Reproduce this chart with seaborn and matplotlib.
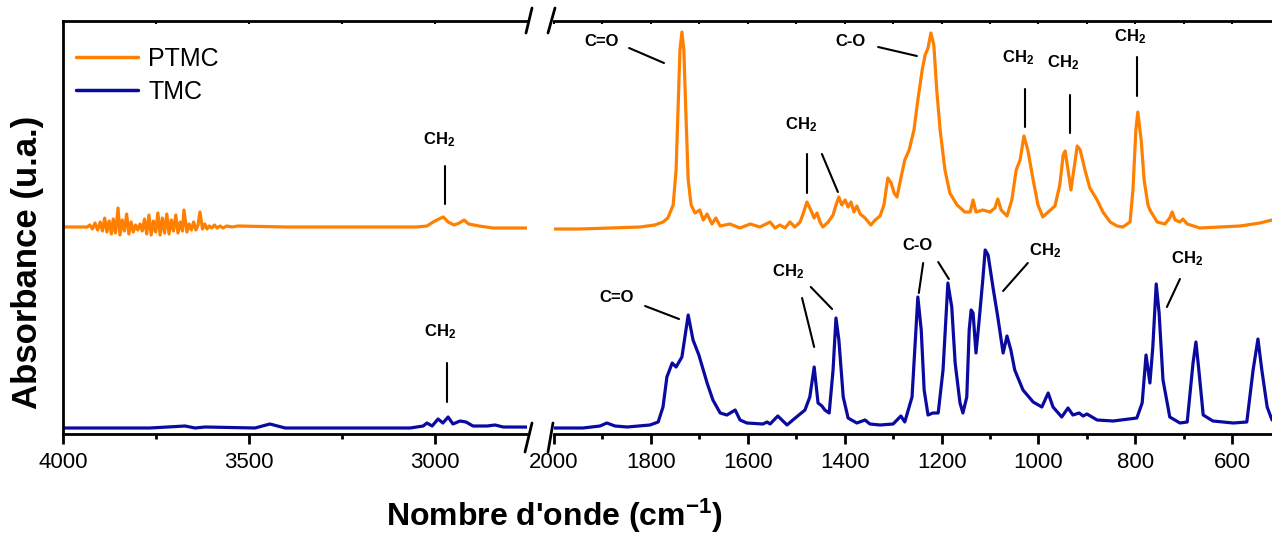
import matplotlib
matplotlib.use('Agg')
import matplotlib.pyplot as plt
from matplotlib.lines import Line2D
from matplotlib.ticker import MultipleLocator
import numpy as np
import pandas as pd
import seaborn as sns

# --- spectra (wavenumber in cm-1, absorbance in a.u.) ---
ptmc_wn = [4000, 3941, 3935, 3928, 3921, 3914, 3907, 3900, 3894, 3888, 3882, 3876, 3870, 3865,
           3859, 3852, 3847, 3841, 3835, 3829, 3823, 3817, 3811, 3805, 3799, 3793, 3787, 3781,
           3775, 3769, 3763, 3757, 3751, 3745, 3739, 3733, 3727, 3721, 3715, 3709, 3703, 3697,
           3691, 3685, 3679, 3675, 3667, 3661, 3655, 3649, 3643, 3637, 3632, 3625, 3619, 3613,
           3607, 3600, 3593, 3586, 3578, 3570, 3560, 3545, 3530, 3400, 3200, 3050, 3022, 3005,
           2990, 2978, 2965, 2949, 2935, 2922, 2910, 2882, 2844, 2753,
           1998, 1946, 1884, 1822, 1792, 1775, 1765, 1754, 1748, 1744, 1740, 1736, 1732, 1728,
           1723, 1717, 1709, 1699, 1692, 1684, 1674, 1666, 1657, 1637, 1616, 1595, 1575, 1554,
           1544, 1534, 1523, 1513, 1503, 1492, 1486, 1478, 1470, 1463, 1457, 1451, 1445, 1434,
           1424, 1418, 1412, 1406, 1399, 1393, 1387, 1381, 1375, 1368, 1358, 1346, 1337, 1327,
           1319, 1311, 1304, 1298, 1292, 1284, 1276, 1267, 1257, 1249, 1240, 1234, 1228, 1222,
           1216, 1210, 1203, 1193, 1183, 1168, 1152, 1141, 1135, 1129, 1115, 1100, 1090, 1084,
           1077, 1065, 1055, 1046, 1038, 1030, 1022, 1011, 1001, 991, 980, 966, 956, 949, 945,
           939, 933, 927, 920, 914, 904, 894, 879, 867, 852, 838, 826, 811, 805, 799, 795, 788,
           782, 774, 770, 755, 739, 729, 724, 718, 708, 702, 693, 667, 625, 584, 543, 518]
ptmc_abs = [2.07, 2.07, 2.07, 2.09, 2.05, 2.11, 2.04, 2.12, 2.03, 2.16, 2.02, 2.13, 2.00, 2.15,
            2.01, 2.26, 1.99, 2.14, 2.03, 2.20, 2.00, 2.12, 2.02, 2.09, 2.04, 2.10, 2.03, 2.15,
            2.00, 2.19, 1.99, 2.13, 2.02, 2.21, 1.99, 2.16, 2.01, 2.20, 2.00, 2.14, 2.03, 2.19,
            2.01, 2.12, 2.03, 2.24, 2.02, 2.10, 2.04, 2.12, 2.04, 2.09, 2.22, 2.05, 2.10, 2.05,
            2.08, 2.06, 2.09, 2.06, 2.08, 2.06, 2.08, 2.07, 2.08, 2.07, 2.07, 2.07, 2.08, 2.12,
            2.15, 2.17, 2.12, 2.09, 2.11, 2.14, 2.10, 2.08, 2.06, 2.06,
            2.05, 2.05, 2.06, 2.07, 2.09, 2.12, 2.16, 2.29, 2.64, 3.24, 3.84, 4.02, 3.84, 3.24,
            2.54, 2.29, 2.21, 2.24, 2.14, 2.20, 2.10, 2.16, 2.08, 2.10, 2.06, 2.10, 2.07, 2.12,
            2.06, 2.09, 2.06, 2.12, 2.07, 2.12, 2.20, 2.32, 2.24, 2.16, 2.21, 2.12, 2.07, 2.12,
            2.19, 2.29, 2.37, 2.29, 2.34, 2.27, 2.32, 2.22, 2.28, 2.20, 2.16, 2.09, 2.14, 2.18,
            2.29, 2.56, 2.51, 2.41, 2.37, 2.56, 2.74, 2.84, 3.04, 3.34, 3.64, 3.79, 3.86, 4.01,
            3.89, 3.44, 3.04, 2.64, 2.41, 2.29, 2.22, 2.22, 2.34, 2.22, 2.24, 2.22, 2.26, 2.35,
            2.24, 2.18, 2.34, 2.64, 2.74, 2.98, 2.84, 2.54, 2.29, 2.17, 2.22, 2.28, 2.49, 2.79, 2.83,
            2.64, 2.44, 2.64, 2.88, 2.84, 2.64, 2.46, 2.34, 2.22, 2.12, 2.08, 2.07, 2.12, 2.44, 3.04, 3.22, 2.94,
            2.54, 2.29, 2.24, 2.12, 2.10, 2.16, 2.22, 2.14, 2.12, 2.15, 2.10, 2.06, 2.07, 2.08, 2.11, 2.14]

tmc_wn = [4000, 3766, 3672, 3645, 3618, 3484, 3444, 3403, 3067, 3032, 3022, 3008, 2992, 2979,
          2965, 2952, 2933, 2917, 2898, 2860, 2839, 2817, 2753,
          1998, 1940, 1905, 1891, 1874, 1849, 1802, 1785, 1775, 1767, 1756, 1748, 1736, 1723,
          1713, 1701, 1684, 1672, 1657, 1643, 1626, 1616, 1602, 1569, 1560, 1554, 1538, 1519,
          1507, 1482, 1472, 1463, 1455, 1447, 1441, 1432, 1424, 1418, 1412, 1403, 1393, 1375,
          1358, 1348, 1327, 1300, 1284, 1276, 1261, 1255, 1249, 1242, 1236, 1228, 1218, 1207,
          1197, 1187, 1179, 1172, 1162, 1156, 1148, 1143, 1139, 1135, 1129, 1123, 1115, 1110,
          1104, 1094, 1084, 1073, 1065, 1057, 1049, 1032, 1011, 993, 980, 970, 952, 939, 929,
          916, 908, 900, 879, 846, 797, 786, 778, 770, 764, 757, 751, 743, 729, 708, 693, 681,
          675, 669, 660, 640, 598, 570, 557, 547, 539, 528, 518]
tmc_abs = [0.06, 0.06, 0.08, 0.06, 0.07, 0.06, 0.10, 0.06, 0.06, 0.08, 0.11, 0.08, 0.15, 0.11,
           0.17, 0.10, 0.13, 0.12, 0.08, 0.08, 0.09, 0.07, 0.07,
           0.06, 0.06, 0.08, 0.11, 0.08, 0.07, 0.09, 0.12, 0.27, 0.57, 0.71, 0.67, 0.77, 1.19,
           0.94, 0.79, 0.51, 0.34, 0.21, 0.19, 0.24, 0.14, 0.11, 0.10, 0.12, 0.10, 0.18, 0.09,
           0.14, 0.24, 0.37, 0.67, 0.31, 0.28, 0.24, 0.21, 0.64, 1.16, 0.94, 0.37, 0.16, 0.11,
           0.14, 0.10, 0.09, 0.10, 0.18, 0.12, 0.37, 0.87, 1.37, 1.04, 0.44, 0.19, 0.21, 0.21,
           0.64, 1.51, 1.27, 0.71, 0.31, 0.21, 0.37, 1.04, 1.24, 1.21, 0.81, 1.11, 1.54, 1.84,
           1.79, 1.47, 1.17, 0.81, 0.98, 0.84, 0.64, 0.44, 0.32, 0.27, 0.41, 0.27, 0.17, 0.26, 0.19,
           0.21, 0.18, 0.20, 0.14, 0.13, 0.16, 0.31, 0.79, 0.51, 0.87, 1.50, 1.21, 0.54, 0.17, 0.11, 0.12, 0.71,
           0.92, 0.64, 0.19, 0.13, 0.11, 0.12, 0.64, 0.95, 0.64, 0.27, 0.14]

samples = ['PTMC', 'TMC']
colors = ['#FF8000', '#0A0AA0']

df = pd.concat([
    pd.DataFrame({'wn': ptmc_wn, 'abs': ptmc_abs, 'sample': 'PTMC'}),
    pd.DataFrame({'wn': tmc_wn, 'abs': tmc_abs, 'sample': 'TMC'}),
])

sns.set_theme(style='ticks')
plt.rcParams['font.family'] = ['Liberation Sans', 'DejaVu Sans']
plt.rcParams['mathtext.default'] = 'regular'
plt.rcParams['text.color'] = 'black'
plt.rcParams['axes.labelcolor'] = 'black'
plt.rcParams['xtick.color'] = 'black'
plt.rcParams['xtick.labelcolor'] = 'black'

W, H = 1272, 533
fig = plt.figure(figsize=(W / 100, H / 100), dpi=100)
ax_l = fig.add_axes([63 / W, 99 / H, 464 / W, 413 / H])
ax_r = fig.add_axes([554 / W, 99 / H, 718 / W, 413 / H])

for ax in (ax_l, ax_r):
    sns.lineplot(data=df, x='wn', y='abs', hue='sample', hue_order=samples,
                 palette=colors, estimator=None, lw=2.3, ax=ax, legend=(ax is ax_l))
    ax.set_ylim(0, 4.13)
    ax.set_yticks([])
    ax.set_xlabel('')
    ax.set_ylabel('')
    for s in ax.spines.values():
        s.set_linewidth(2)
        s.set_color('black')
    ax.spines['right'].set_visible(False)
    ax.tick_params(axis='x', which='major', direction='out', length=7, width=2,
                   labelsize=16, pad=6, colors='black')
    ax.tick_params(axis='x', which='minor', direction='out', length=3.5, width=2)

ax_r.spines['left'].set_visible(False)
ax_l.set_xlim(4000, 2753)
ax_r.set_xlim(2000, 518)
ax_l.xaxis.set_major_locator(MultipleLocator(500))
ax_l.xaxis.set_minor_locator(MultipleLocator(250))
ax_r.xaxis.set_major_locator(MultipleLocator(200))
ax_r.xaxis.set_minor_locator(MultipleLocator(100))

# small inward ticks on the top spine
for ax, step in ((ax_l, 250), (ax_r, 100)):
    sec = ax.secondary_xaxis('top')
    sec.xaxis.set_major_locator(MultipleLocator(step))
    sec.tick_params(axis='x', direction='in', length=2.5, width=1.5, labeltop=False)
    for s in sec.spines.values():
        s.set_visible(False)

# legend
h, l = ax_l.get_legend_handles_labels()
leg = ax_l.legend(h, l, loc='upper left', bbox_to_anchor=(-0.01, 0.98), frameon=False,
                  fontsize=18, handlelength=2.5, handletextpad=0.4, labelspacing=0.35,
                  borderaxespad=0.3)
for line in leg.get_lines():
    line.set_linewidth(2.5)
for t in leg.get_texts():
    t.set_color('black')


def note(ax, x, y, label, segs):
    ax.text(x, y, label, ha='center', va='center', fontsize=12, fontweight='bold',
            color='black')
    for (x0, y0, x1, y1) in segs:
        ax.plot([x0, x1], [y0, y1], color='black', lw=1.5)


CH2 = 'CH$_2$'
# PTMC bands
note(ax_l, 2989, 2.94, CH2, [(2973, 2.68, 2973, 2.30)])
note(ax_r, 1901, 3.92, 'C=O', [(1845, 3.86, 1773, 3.71)])
note(ax_r, 1490, 3.09, CH2, [(1478, 2.80, 1478, 2.41), (1447, 2.80, 1414, 2.42)])
note(ax_r, 1389, 3.92, 'C-O', [(1331, 3.87, 1251, 3.78)])
note(ax_r, 1042, 3.76, CH2, [(1028, 3.45, 1028, 3.07)])
note(ax_r, 949, 3.71, CH2, [(935, 3.39, 935, 3.01)])
note(ax_r, 811, 3.97, CH2, [(797, 3.77, 797, 3.38)])
# TMC bands
note(ax_l, 2987, 1.02, CH2, [(2968, 0.71, 2968, 0.32)])
note(ax_r, 1870, 1.36, 'C=O', [(1812, 1.28, 1742, 1.15)])
note(ax_r, 1517, 1.62, CH2, [(1488, 1.36, 1463, 0.87), (1470, 1.47, 1426, 1.25)])
note(ax_r, 1249, 1.89, 'C-O', [(1238, 1.71, 1247, 1.41), (1207, 1.72, 1185, 1.55)])
note(ax_r, 987, 1.83, CH2, [(1022, 1.71, 1073, 1.43)])
note(ax_r, 693, 1.75, CH2, [(708, 1.55, 735, 1.27)])

# axis-break marks
for (x0, y0, x1, y1) in [(526, 33, 532, 8), (548, 33, 555, 8),
                         (525, 452, 532, 423), (548, 452, 553, 423)]:
    fig.add_artist(Line2D([x0 / W, x1 / W], [1 - y0 / H, 1 - y1 / H],
                          color='black', lw=2))

fig.text(554 / W, 1 - 516 / H, "Nombre d'onde (cm$^{-1}$)", ha='center', va='center',
         fontsize=23, fontweight='bold', color='black')
fig.text(28 / W, 1 - 262 / H, 'Absorbance (u.a.)', ha='center', va='center',
         rotation=90, fontsize=25, fontweight='bold', color='black')

fig.savefig('out.png', dpi=100)
